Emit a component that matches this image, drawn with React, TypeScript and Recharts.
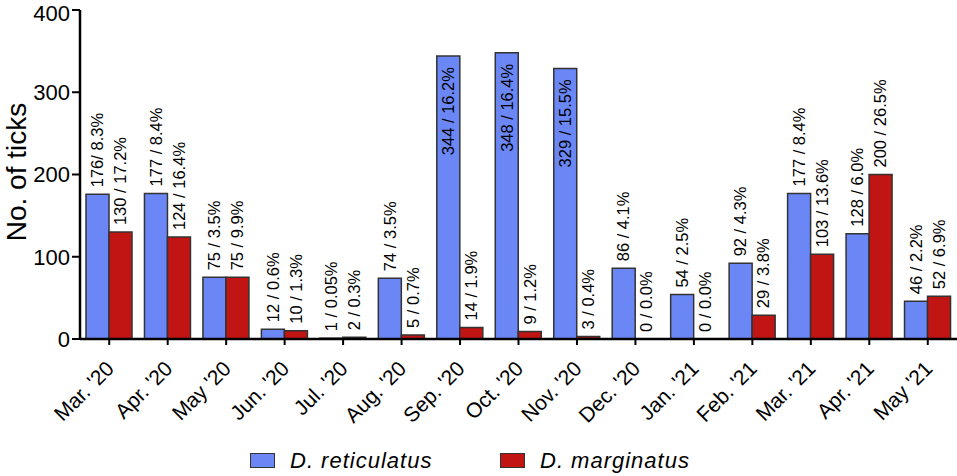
import React from "react";
import { Bar, BarChart, LabelList, Legend, XAxis, YAxis } from "recharts";

const months = [
  "Mar. '20", "Apr. '20", "May '20", "Jun. '20", "Jul. '20", "Aug. '20", "Sep. '20", "Oct. '20",
  "Nov. '20", "Dec. '20", "Jan. '21", "Feb. '21", "Mar. '21", "Apr. '21", "May '21",
];
const reticulatus = [176, 177, 75, 12, 1, 74, 344, 348, 329, 86, 54, 92, 177, 128, 46];
const marginatus = [130, 124, 75, 10, 2, 5, 14, 9, 3, 0, 0, 29, 103, 200, 52];
const reticulatusLabels = [
  "176/ 8.3%", "177 / 8.4%", "75 / 3.5%", "12 / 0.6%", "1 / 0.05%", "74 / 3.5%", "344 / 16.2%",
  "348 / 16.4%", "329 / 15.5%", "86 / 4.1%", "54 / 2.5%", "92 / 4.3%", "177 / 8.4%", "128 / 6.0%", "46 / 2.2%",
];
const marginatusLabels = [
  "130 / 17.2%", "124 / 16.4%", "75 / 9.9%", "10 / 1.3%", "2 / 0.3%", "5 / 0.7%", "14 / 1.9%",
  "9 / 1.2%", "3 / 0.4%", "0 / 0.0%", "0 / 0.0%", "29 / 3.8%", "103 / 13.6%", "200 / 26.5%", "52 / 6.9%",
];
const yTicks = [0, 100, 200, 300, 400];

const BLUE = "#6b87f6";
const RED = "#c01512";
const FONT = "'Liberation Sans', Arial, Helvetica, sans-serif";

const data = months.map((m, i) => ({
  month: m,
  ret: reticulatus[i],
  mar: marginatus[i],
  retLabel: reticulatusLabels[i],
  marLabel: marginatusLabels[i],
}));

// zero-count bars get a hairline so recharts keeps their label (it hides on the axis line)
const zeroMin = (v: any) => (Number(v) === 0 ? 0.01 : 0);

// vertical count / percent label: above the bar, or inside when the bar is tall
function BarLabel(props: any) {
  const { x, y, width, height, value } = props;
  const bx = Number(x) + Number(width) / 2 + 5.8;
  const inside = Number(height) > 240;
  const ty = inside ? Number(y) + 11 : Number(y) - 7;
  return (
    <text
      x={bx}
      y={ty}
      transform={`rotate(-90, ${bx}, ${ty})`}
      textAnchor={inside ? "end" : "start"}
      fontSize={16.5}
      fontFamily={FONT}
      fill="#000"
    >
      {value}
    </text>
  );
}

function MonthTick(props: any) {
  const { x, y, payload } = props;
  const ax = x + 6;
  const ay = y + 23;
  return (
    <text
      x={ax}
      y={ay}
      transform={`rotate(-45, ${ax}, ${ay})`}
      textAnchor="end"
      fontSize={21}
      fontFamily={FONT}
      fill="#000"
    >
      {payload.value}
    </text>
  );
}

function LegendBox() {
  const item = (left: number, color: string, text: string) => (
    <>
      <div
        style={{
          position: "absolute",
          left,
          top: 7,
          width: 25,
          height: 15,
          background: color,
          border: "1px solid #333",
          boxSizing: "border-box",
        }}
      />
      <div
        style={{
          position: "absolute",
          left: left + 40,
          top: 0,
          lineHeight: "30px",
          fontSize: 22,
          letterSpacing: 1,
          fontStyle: "italic",
          fontFamily: FONT,
          color: "#000",
          whiteSpace: "nowrap",
        }}
      >
        {text}
      </div>
    </>
  );
  return (
    <div style={{ position: "relative", width: 957, height: 30 }}>
      {item(250, BLUE, "D. reticulatus")}
      {item(500, RED, "D. marginatus")}
    </div>
  );
}

export default function App() {
  return (
    <div style={{ width: 957, height: 476, background: "#fff" }}>
      <style>{"body{margin:0}"}</style>
      <BarChart
        width={957}
        height={476}
        data={data}
        margin={{ top: 10, right: 0, bottom: 0, left: 0 }}
        barGap={0}
        barSize={23}
      >
        <XAxis
          dataKey="month"
          height={107}
          interval={0}
          tick={<MonthTick />}
          tickSize={6}
          axisLine={{ stroke: "#000", strokeWidth: 2.5 }}
          tickLine={{ stroke: "#000", strokeWidth: 2 }}
        />
        <YAxis
          width={80}
          domain={[0, 400]}
          ticks={yTicks}
          tickSize={8}
          tickMargin={2}
          axisLine={{ stroke: "#000", strokeWidth: 2.5 }}
          tickLine={{ stroke: "#000", strokeWidth: 2 }}
          tick={{ fontSize: 22, fill: "#000", fontFamily: FONT }}
          label={() => (
            <text
              x={26}
              y={172}
              transform="rotate(-90, 26, 172)"
              textAnchor="middle"
              fontSize={28}
              fontFamily={FONT}
              fill="#000"
            >
              No. of ticks
            </text>
          )}
        />
        <Legend
          verticalAlign="bottom"
          height={30}
          wrapperStyle={{ left: 0, width: 957 }}
          content={() => <LegendBox />}
        />
        <Bar dataKey="ret" fill={BLUE} stroke="#333" strokeWidth={1.5} minPointSize={zeroMin} isAnimationActive={false}>
          <LabelList dataKey="retLabel" content={<BarLabel />} />
        </Bar>
        <Bar dataKey="mar" fill={RED} stroke="#333" strokeWidth={1.5} minPointSize={zeroMin} isAnimationActive={false}>
          <LabelList dataKey="marLabel" content={<BarLabel />} />
        </Bar>
      </BarChart>
    </div>
  );
}
